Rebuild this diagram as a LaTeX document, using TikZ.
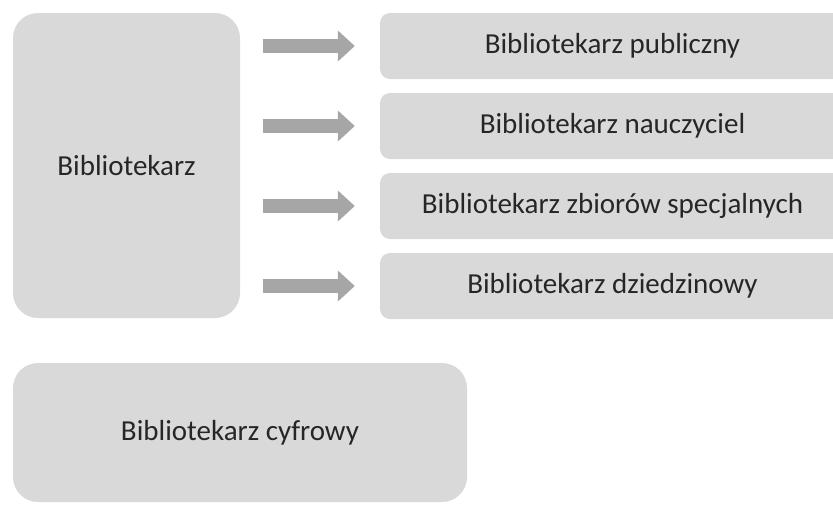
\documentclass[tikz,border=0pt]{standalone}
\usepackage{fontspec}
\setmainfont{Carlito}
\usetikzlibrary{arrows.meta}

\begin{document}
\begin{tikzpicture}[x=1pt,y=-1pt,
  panel/.style={fill=boxfill,text=labeltext,inner sep=0pt,align=center,font=\fontsize{29}{34}\selectfont},
  bigpanel/.style={panel,rounded corners=\big_rounding},
  rolepanel/.style={panel,rounded corners=\small_rounding,minimum width=465pt,minimum height=66pt},
  blockarrow/.style={draw=arrowfill,line width=14pt,-{Triangle[width=30pt,length=17pt]},shorten <=23pt,shorten >=25pt}
]
\colorlet{boxfill}{black!15};
\colorlet{arrowfill}{black!35};
\colorlet{labeltext}{black!85};
\def\big_rounding{25pt};
\def\small_rounding{10pt};

\useasboundingbox (0,0) rectangle (833,504);
\clip (0,0) rectangle (833,504);

% Librarian
\node[bigpanel,minimum width=227pt,minimum height=305pt] (bibl) at (126.5,165.5) {Bibliotekarz};

% Kinds of librarian
\foreach \name/\y/\txt in {publiczny/46/Bibliotekarz publiczny,
                           nauczyciel/126/Bibliotekarz nauczyciel,
                           zbiory/206/Bibliotekarz zbiorów specjalnych,
                           dziedzinowy/286/Bibliotekarz dziedzinowy}{
\node[rolepanel] (\name) at (612.5,\y) {\txt};
\draw[blockarrow] (bibl.east |- \name.west) -- (\name.west);
}

% Digital librarian
\node[bigpanel,minimum width=454pt,minimum height=139pt] (cyfrowy) at (240,432.5) {Bibliotekarz cyfrowy};
\end{tikzpicture}
\end{document}
